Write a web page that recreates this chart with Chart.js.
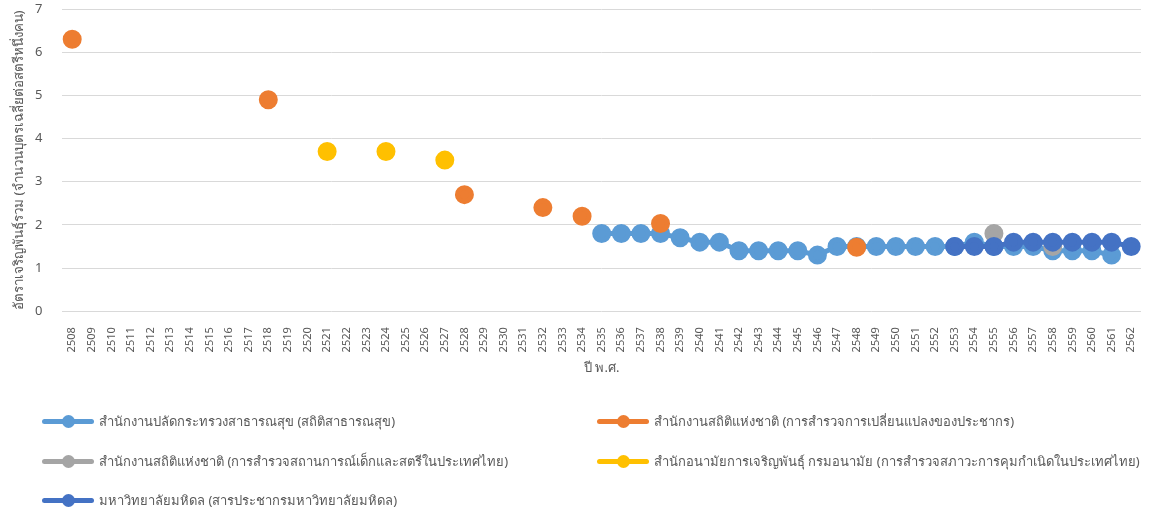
<!DOCTYPE html>
<html>
<head>
<meta charset="utf-8">
<script src="https://cdn.jsdelivr.net/npm/chart.js@4"></script>
<style>
  body { margin: 0; background: #fff; }
  #wrap { position: relative; width: 1153px; height: 514px; }
  #legend { position: absolute; left: 0; top: 0; font-family: Tahoma, "Noto Sans", sans-serif; font-size: 13px; color: #595959; }
  .item { position: absolute; height: 20px; line-height: 20px; white-space: nowrap; }
  .swatch { position: absolute; left: 0; top: 8px; width: 52px; height: 5px; border-radius: 3px; }
  .dot { position: absolute; left: 20px; top: -4px; width: 13px; height: 13px; border-radius: 50%; }
  .txt { position: absolute; left: 57px; top: 0; }
</style>
</head>
<body>
<div id="wrap">
  <canvas id="myChart" width="1153" height="514"></canvas>
  <div id="legend"></div>
</div>
<script>
var years = ['2508', '2509', '2510', '2511', '2512', '2513', '2514', '2515', '2516', '2517',
    '2518', '2519', '2520', '2521', '2522', '2523', '2524', '2525', '2526', '2527',
    '2528', '2529', '2530', '2531', '2532', '2533', '2534', '2535', '2536', '2537',
    '2538', '2539', '2540', '2541', '2542', '2543', '2544', '2545', '2546', '2547',
    '2548', '2549', '2550', '2551', '2552', '2553', '2554', '2555', '2556', '2557',
    '2558', '2559', '2560', '2561', '2562'];

// สำนักงานปลัดกระทรวงสาธารณสุข
var mophYears = ['2535', '2536', '2537', '2538', '2539', '2540', '2541', '2542', '2543', '2544',
    '2545', '2546', '2547', '2548', '2549', '2550', '2551', '2552', '2553', '2554',
    '2555', '2556', '2557', '2558', '2559', '2560', '2561'];
var mophValues = [1.8, 1.8, 1.8, 1.8, 1.7, 1.6, 1.6, 1.4, 1.4, 1.4,
    1.4, 1.3, 1.5, 1.5, 1.5, 1.5, 1.5, 1.5, 1.5, 1.6,
    1.5, 1.5, 1.5, 1.4, 1.4, 1.4, 1.3];

// สำนักงานสถิติแห่งชาติ (การสำรวจการเปลี่ยนแปลงของประชากร)
var nsoYears = ['2508', '2518', '2528', '2532', '2534', '2538', '2548'];
var nsoValues = [6.3, 4.9, 2.7, 2.4, 2.2, 2.03, 1.48];

// สำนักงานสถิติแห่งชาติ (การสำรวจสถานการณ์เด็กและสตรี)
var micsYears = ['2555', '2558'];
var micsValues = [1.8, 1.5];

// สำนักอนามัยการเจริญพันธุ์
var rhYears = ['2521', '2524', '2527'];
var rhValues = [3.7, 3.7, 3.5];

// มหาวิทยาลัยมหิดล
var mahidolYears = ['2553', '2554', '2555', '2556', '2557', '2558', '2559', '2560', '2561', '2562'];
var mahidolValues = [1.5, 1.5, 1.5, 1.6, 1.6, 1.6, 1.6, 1.6, 1.6, 1.5];

var yTicks = [0, 1, 2, 3, 4, 5, 6, 7];

function toPoints(xs, ys) {
    var pts = [];
    for (var i = 0; i < xs.length; i++) {
        pts.push({ x: xs[i], y: ys[i] });
    }
    return pts;
}

function series(label, xs, ys, color, showLine, order) {
    return {
        label: label,
        data: toPoints(xs, ys),
        borderColor: color,
        backgroundColor: color,
        pointBackgroundColor: color,
        pointBorderColor: color,
        borderWidth: 5,
        pointRadius: 7,
        pointHoverRadius: 7,
        showLine: showLine,
        order: order
    };
}

var datasets = [
    series('สำนักงานปลัดกระทรวงสาธารณสุข (สถิติสาธารณสุข)', mophYears, mophValues, '#5B9BD5', true, 5),
    series('สำนักงานสถิติแห่งชาติ (การสำรวจการเปลี่ยนแปลงของประชากร)', nsoYears, nsoValues, '#ED7D31', false, 4),
    series('สำนักงานสถิติแห่งชาติ (การสำรวจสถานการณ์เด็กและสตรีในประเทศไทย)', micsYears, micsValues, '#A5A5A5', false, 3),
    series('สำนักอนามัยการเจริญพันธุ์ กรมอนามัย (การสำรวจสภาวะการคุมกำเนิดในประเทศไทย)', rhYears, rhValues, '#FFC000', false, 2),
    series('มหาวิทยาลัยมหิดล (สารประชากรมหาวิทยาลัยมหิดล)', mahidolYears, mahidolValues, '#4472C4', true, 1)
];

var thaiFont = 'Tahoma, "Noto Sans", sans-serif';

var ctx = document.getElementById('myChart').getContext('2d');
var myChart = new Chart(ctx, {
    type: 'line',
    data: {
        labels: years,
        datasets: datasets
    },
    options: {
        responsive: false,
        animation: false,
        layout: {
            autoPadding: false,
            padding: { left: 11, right: 12, top: 0, bottom: 134 }
        },
        plugins: {
            legend: { display: false },
            tooltip: { enabled: false }
        },
        scales: {
            x: {
                offset: true,
                grid: { display: false },
                border: { display: false },
                ticks: {
                    minRotation: 90,
                    maxRotation: 90,
                    autoSkip: false,
                    padding: 8,
                    color: '#595959',
                    font: { family: thaiFont, size: 11 }
                },
                title: {
                    display: true,
                    text: 'ปี พ.ศ.',
                    color: '#595959',
                    font: { family: thaiFont, size: 13 },
                    padding: { top: 0 }
                }
            },
            y: {
                min: 0,
                max: 7,
                afterBuildTicks: function(axis) {
                    axis.ticks = yTicks.map(function(v) { return { value: v }; });
                },
                afterFit: function(axis) {
                    // keep the tick padding from pushing the plot down
                    axis.paddingTop = 9;
                    axis.paddingBottom = 8;
                },
                grid: { color: '#D9D9D9', lineWidth: 1, drawTicks: false },
                border: { display: false },
                ticks: {
                    padding: 20,
                    color: '#595959',
                    font: { family: thaiFont, size: 13 }
                },
                title: {
                    display: true,
                    text: 'อัตราเจริญพันธุ์รวม (จำนวนบุตรเฉลี่ยต่อสตรีหนึ่งคน)',
                    color: '#595959',
                    font: { family: thaiFont, size: 13.3 },
                    padding: { top: 0, bottom: -12 }
                }
            }
        }
    }
});

// legend in two columns, built from the chart's datasets
var legendPos = [
    { left: 42, top: 411 },
    { left: 597, top: 411 },
    { left: 42, top: 451 },
    { left: 597, top: 451 },
    { left: 42, top: 490 }
];
var legend = document.getElementById('legend');
myChart.data.datasets.forEach(function(ds, i) {
    var item = document.createElement('div');
    item.className = 'item';
    item.style.left = legendPos[i].left + 'px';
    item.style.top = legendPos[i].top + 'px';
    var sw = document.createElement('span');
    sw.className = 'swatch';
    sw.style.background = ds.borderColor;
    var dot = document.createElement('span');
    dot.className = 'dot';
    dot.style.background = ds.borderColor;
    sw.appendChild(dot);
    var t = document.createElement('span');
    t.className = 'txt';
    t.textContent = ds.label;
    item.appendChild(sw);
    item.appendChild(t);
    legend.appendChild(item);
});
</script>
</body>
</html>
